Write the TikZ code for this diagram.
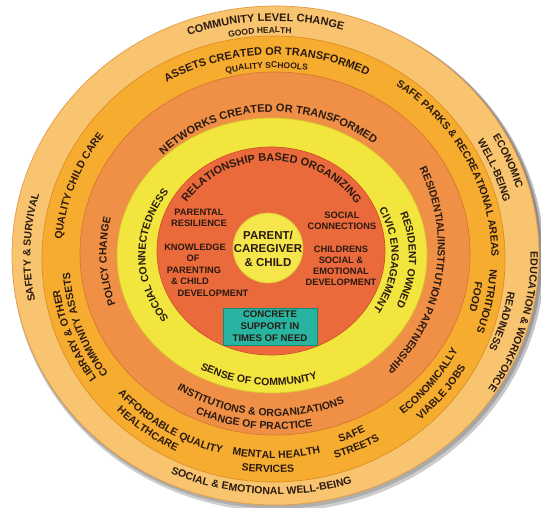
\documentclass[tikz,border=0pt]{standalone}
\usepackage{fontspec}
\setmainfont{Liberation Sans}
\usetikzlibrary{decorations.text}
\definecolor{ink}{HTML}{2A1A12}
\definecolor{cA}{HTML}{F8C46F}
\definecolor{cAe}{HTML}{E59A45}
\definecolor{cB}{HTML}{F6AC2F}
\definecolor{cBe}{HTML}{DE8E25}
\definecolor{cC}{HTML}{EF9046}
\definecolor{cCe}{HTML}{D8772F}
\definecolor{cD}{HTML}{F2E53D}
\definecolor{cDe}{HTML}{D9C22E}
\definecolor{cE}{HTML}{EB6A3B}
\definecolor{cEe}{HTML}{CF5329}
\definecolor{cF}{HTML}{F5E74B}
\definecolor{cFe}{HTML}{D8C235}
\definecolor{tealF}{HTML}{27B4A0}
\definecolor{tealE}{HTML}{168876}
\definecolor{shade}{HTML}{B8B1AA}
\newcommand\fT{\color{ink}\bfseries\fontsize{11}{13}\selectfont}
\newcommand\fB{\color{ink}\bfseries\fontsize{10.5}{12}\selectfont}
\newcommand\fS{\color{ink}\bfseries\fontsize{8.5}{10}\selectfont}
% #1 centre, #2 rx, #3 ry, #4 start angle, #5 end angle, #6 format, #7 text
\newcommand\rtext[7]{\path[decorate,decoration={text along path,text align=center,text={|#6|#7}}]
  ([shift={(#4:#2pt and #3pt)}]#1) arc[start angle=#4,end angle=#5,x radius=#2pt,y radius=#3pt];}
\tikzset{
  band/.style={line width=0.7pt},
  lbl/.style={font=\bfseries\fontsize{9.3}{11}\selectfont, text=ink, align=center, inner sep=0pt},
}
\begin{document}
\begin{tikzpicture}[x=1pt,y=1pt]
\path[use as bounding box] (0,0) rectangle (541,507);
\fill[white] (0,0) rectangle (541,507);
\coordinate (E1) at (275.5,251.5);
\coordinate (E2) at (273.5,248);
\coordinate (E3) at (275,253.5);
\coordinate (E4) at (272,251.5);
\coordinate (E5) at (271,256);
\coordinate (E6) at (268,259);
\coordinate (R3) at (265,260.4);
% shadow
\fill[shade,opacity=0.25] ([shift={(3,-4)}]E1) ellipse[x radius=266pt,y radius=252pt];
\fill[shade,opacity=0.35] ([shift={(2,-2.5)}]E1) ellipse[x radius=264.5pt,y radius=250.5pt];
% bands
\filldraw[band,fill=cA,draw=cAe] (E1) ellipse[x radius=263.5pt,y radius=249.5pt];
\filldraw[band,fill=cB,draw=cBe] (E2) ellipse[x radius=231.5pt,y radius=223pt];
\filldraw[band,fill=cC,draw=cCe] (E3) ellipse[x radius=195pt,y radius=181.5pt];
\filldraw[band,fill=cD,draw=cDe] (E4) ellipse[x radius=155pt,y radius=137.5pt];
\filldraw[band,fill=cE,draw=cEe] (E5) ellipse[x radius=114pt,y radius=104pt];
\filldraw[band,fill=cF,draw=cFe] (E6) circle[radius=35pt];
% band 1
\rtext{E1}{248.5}{234.5}{137.4}{47.4}{\fT}{COMMUNITY LEVEL CHANGE}
\rtext{E1}{236.5}{222.5}{123.8}{63.8}{\fS}{GOOD HEALTH}
\rtext{E1}{251}{237}{52.9}{-7.1}{\fB}{ECONOMIC}
\rtext{E1}{235}{221}{52.1}{-7.9}{\fB}{WELL-BEING}
\rtext{E1}{255}{241}{29}{-61}{\fB}{EDUCATION {\&} WORKFORCE}
\rtext{E1}{235.5}{221.5}{13.1}{-46.9}{\fB}{READINESS}
\rtext{E1}{253}{239}{-138.5}{-48.5}{\fB}{SOCIAL {\&} EMOTIONAL WELL-BEING}
\rtext{E1}{245}{231}{208}{148}{\fB}{SAFETY {\&} SURVIVAL}
% band 2
\rtext{E2}{212.5}{204}{137}{47}{\fT}{ASSETS CREATED OR TRANSFORMED}
\rtext{E2}{199.5}{191}{122}{62}{\fS}{QUALITY SCHOOLS}
\rtext{E2}{218}{209.5}{73}{-17}{\fB}{SAFE PARKS {\&} RECREATIONAL AREAS}
\rtext{E2}{216.5}{208}{18.5}{-41.5}{\fB}{NUTRITIOUS}
\rtext{E2}{203}{194.5}{9}{-31}{\fB}{FOOD}
\rtext{E2}{207.5}{199}{-74}{-4}{\fB}{ECONOMICALLY}
\rtext{E2}{223}{214.5}{-69.4}{-9.4}{\fB}{VIABLE JOBS}
\rtext{E2}{202.5}{194}{-86.8}{-46.8}{\fB}{SAFE}
\rtext{E2}{216.5}{208}{-91.9}{-41.9}{\fB}{STREETS}
\rtext{E2}{208}{199.5}{-124.2}{-54.2}{\fB}{MENTAL HEALTH}
\rtext{E2}{222}{213.5}{-121.5}{-61.5}{\fB}{SERVICES}
\rtext{E2}{209.5}{201}{-161.5}{-81.5}{\fB}{AFFORDABLE QUALITY}
\rtext{E2}{222.5}{214}{-155.6}{-95.6}{\fB}{HEALTHCARE}
\rtext{E2}{216}{207.5}{241.5}{161.5}{\fB}{LIBRARY {\&} OTHER}
\rtext{E2}{204}{195.5}{239.7}{159.7}{\fB}{COMMUNITY ASSETS}
\rtext{E2}{212.5}{204}{199}{119}{\fB}{QUALITY CHILD CARE}
% band 3
\rtext{E3}{155}{141.5}{163.3}{23.3}{\fT}{NETWORKS CREATED OR TRANSFORMED}
\rtext{R3}{172.8}{172.8}{45.7}{-64.3}{\fB}{RESIDENTIAL/INSTITUTION PARTNERSHIP}
\rtext{E3}{168.5}{155}{232.8}{132.8}{\fB}{POLICY CHANGE}
\rtext{E3}{176.5}{163}{-160.5}{-30.5}{\fB}{INSTITUTIONS {\&} ORGANIZATIONS}
\rtext{E3}{189.5}{176}{-157}{-37}{\fB}{CHANGE OF PRACTICE}
% band 4
\rtext{E4}{126.5}{109}{250}{110}{\fB}{SOCIAL CONNECTEDNESS}
\rtext{E4}{137}{119.5}{58}{-62}{\fB}{RESIDENT OWNED}
\rtext{E4}{119.5}{102}{62.5}{-67.5}{\fB}{CIVIC ENGAGEMENT}
\rtext{E4}{147.5}{130}{-156}{-36}{\fB}{SENSE OF COMMUNITY}
% band 5
\rtext{E5}{100}{90}{179.4}{-0.6}{\fT}{RELATIONSHIP BASED ORGANIZING}
% inner labels
\node[lbl] (pr) at (199,289) {PARENTAL\\RESILIENCE};
\node[lbl] (k1) at (195,259.5) {KNOWLEDGE};
\node[lbl] (k2) at (193,248.5) {OF};
\node[lbl] (k3) at (194,237) {PARENTING};
\node[lbl] (k4) at (190,225.5) {\& CHILD};
\node[lbl] (k5) at (213,213.5) {DEVELOPMENT};
\node[lbl] (sc) at (342,286) {SOCIAL\\CONNECTIONS};
\node[lbl] (cs) at (341,241) {CHILDRENS\\SOCIAL \&\\EMOTIONAL\\DEVELOPMENT};
\node[lbl,font=\bfseries\fontsize{11.5}{13.5}\selectfont] (pc) at (268,258.5) {PARENT/\\CAREGIVER\\\& CHILD};
\node[lbl,draw=tealE,fill=tealF,line width=1pt,minimum width=94pt,minimum height=37pt,
      font=\bfseries\fontsize{9.6}{12}\selectfont] (cb) at (270,180.5) {CONCRETE\\SUPPORT IN\\TIMES OF NEED};
\end{tikzpicture}
\end{document}
